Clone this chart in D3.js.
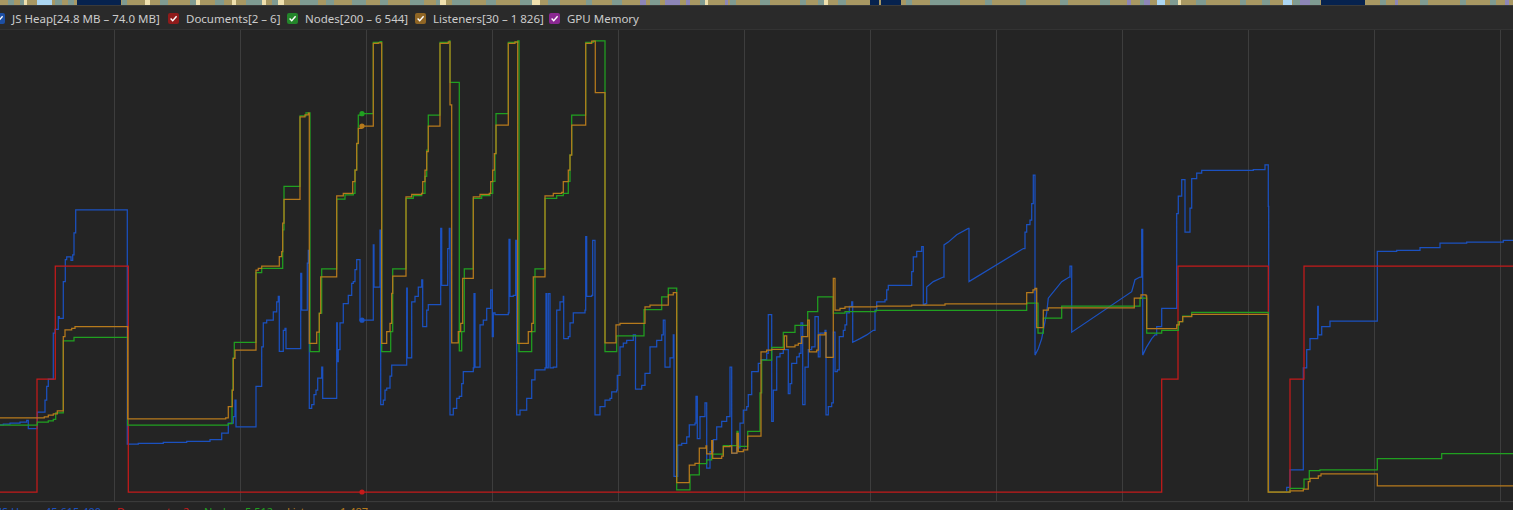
<!DOCTYPE html>
<html><head><meta charset="utf-8">
<script src="https://cdn.jsdelivr.net/npm/d3@7"></script>
<style>
html,body{margin:0;padding:0;background:#242424;overflow:hidden;}
svg{display:block;}
text{font-family:"Noto Sans","Open Sans",sans-serif;}
</style></head><body>
<svg id="chart" width="1513" height="510"></svg>
<script>
// ---------- DATA ----------
// time in ms, visible window
const timeWindow = [0, 15130];
const gridStart = 1140, gridStep = 1260;
const hoverTime = 3620;

// JS Heap (MB); a third element 1 marks a sample reached by a linear ramp
const heapRange = [24.8, 74.0];
const heapData = [[0,32.1],[33,32.2],[100,32.3],[200,32.4],[267,32.6],[283,31.7],[373,33.5],[450,34.8],[467,36.3],[483,37.1],[533,42.1],[550,42.5],[583,43.9],[593,43.7],[633,47.7],[653,50.1],[667,50.4],[710,50.0],[727,50.6],[740,53.0],[757,55.5],[1273,30.0],[1383,30.1],[1633,30.2],[1867,30.3],[2100,30.5],[2217,31.2],[2283,32.3],[2333,33.0],[2350,34.8],[2360,31.9],[2560,36.3],[2617,40.6],[2633,43.2],[2667,43.5],[2733,44.4],[2767,45.5],[2783,46.1],[2793,40.1],[2833,42.4],[2850,42.6],[2860,40.4],[3007,48.6],[3017,44.6],[3073,49.7],[3083,51.1],[3093,33.9],[3117,34.3],[3140,35.4],[3160,35.9],[3177,37.2],[3217,38.4],[3227,35.0],[3367,43.2],[3373,39.0],[3383,40.3],[3400,43.2],[3433,45.3],[3483,46.2],[3517,47.5],[3533,47.7],[3550,49.0],[3567,50.1],[3600,43.5],[3733,51.7],[3740,47.1],[3800,53.3],[3807,34.3],[3833,34.8],[3850,35.9],[3867,36.1],[3900,37.4],[3917,38.6],[4067,47.0],[4073,39.4],[4117,45.5],[4150,46.1],[4183,47.1],[4217,47.9],[4227,42.8],[4267,44.6],[4283,45.2],[4407,53.5],[4417,47.3],[4477,51.3],[4493,53.5],[4500,33.2],[4533,33.9],[4567,35.0],[4593,35.2],[4617,36.6],[4633,37.9],[4733,38.3],[4740,46.4],[4750,38.4],[4800,43.0],[4833,43.5],[4867,44.8],[4907,46.8],[4923,41.7],[4933,44.3],[4950,44.1],[5083,44.3],[5090,52.3],[5100,46.1],[5133,46.2],[5157,52.2],[5167,33.2],[5200,33.7],[5267,35.0],[5317,37.0],[5350,38.1],[5450,38.3],[5460,46.4],[5467,38.3],[5483,46.4],[5500,38.3],[5533,38.4],[5567,44.6],[5600,45.5],[5633,46.1],[5637,41.5],[5683,41.7],[5700,43.2],[5733,44.3],[5850,44.6],[5857,52.6],[5867,46.1],[5917,46.2],[5927,52.2],[5950,33.2],[6000,34.1],[6050,34.8],[6100,35.0],[6117,35.7],[6167,35.9],[6173,37.5],[6200,40.6],[6233,41.0],[6267,41.3],[6333,41.9],[6355,36.0],[6417,36.4],[6450,37.7],[6500,40.6],[6567,41.3],[6617,41.9],[6633,43.5],[6650,38.4],[6700,39.4],[6733,41.9],[6740,26.5],[6777,29.9],[6817,30.1],[6867,30.8],[6893,32.1],[6950,32.3],[6960,35.2],[6973,30.6],[7000,33.0],[7050,34.5],[7067,27.4],[7100,29.2],[7133,30.5],[7167,31.9],[7217,32.5],[7267,33.0],[7300,38.4],[7317,29.0],[7367,29.6],[7400,32.3],[7433,33.7],[7467,34.1],[7483,35.4],[7517,37.9],[7583,38.8],[7610,39.2],[7667,39.9],[7683,44.1],[7717,32.5],[7733,35.9],[7767,39.5],[7800,39.9],[7833,40.3],[7883,35.5],[7900,36.6],[7917,38.8],[7967,39.5],[7993,39.9],[8010,43.2],[8027,34.3],[8050,38.4],[8083,40.3],[8117,40.6],[8150,43.9],[8183,39.5],[8200,42.1],[8250,42.4],[8260,33.2],[8283,34.1],[8317,34.5],[8333,42.2],[8350,37.9],[8373,38.1],[8393,41.7],[8433,42.4],[8450,43.0],[8467,44.3],[8493,45.0],[8517,45.5],[8527,41.1],[8600,41.5,1],[8667,41.9,1],[8733,42.4,1],[8750,44.6],[8767,45.5],[8850,45.7],[8867,46.8],[8883,47.3],[9117,48.8],[9133,50.4],[9167,51.0],[9217,51.5],[9233,45.2],[9250,45.3],[9267,47.1],[9333,47.7,1],[9433,48.2,1],[9440,51.7],[9483,52.0,1],[9567,52.8,1],[9683,53.5,1],[9690,47.7],[10233,51.3,1],[10250,53.1],[10267,53.9],[10300,54.4],[10317,56.2],[10333,59.3],[10350,39.7],[10383,40.4,1],[10417,41.5,1],[10433,42.4,1],[10467,44.3,1],[10483,45.9,1],[10617,47.7,1],[10693,48.2,1],[10700,49.4],[10717,42.2],[11317,46.6,1],[11350,47.9,1],[11400,48.2,1],[11417,53.4],[11427,39.7],[11467,40.6,1],[11517,41.5,1],[11550,41.9,1],[11567,42.8],[11617,44.8],[11767,55.1],[11783,57.0],[11817,58.8],[11850,53.1],[11900,55.7],[11917,58.9],[11967,59.5],[12017,59.8],[12533,59.9],[12650,60.4],[12683,55.9],[12687,24.8],[12867,25.3],[12900,27.2],[13033,38.3],[13067,40.3],[13100,41.5],[13177,45.0],[13183,41.9],[13217,42.8],[13300,43.4],[13773,51.0],[13967,51.1],[14200,51.4],[14400,51.9],[14667,52.0],[15033,52.2],[15130,52.2]];

// Documents
const docsRange = [2, 10];
const docsData = [[0,2],[370,4],[553,6],[1283,2],[11617,4],[11780,6],[12683,2],[12900,4],[13040,6],[15130,6]];

// Nodes
const nodesRange = [200, 6544];
const nodesData = [[0,1140],[373,1180],[483,1200],[533,1220],[557,1310],[633,2320],[740,2370],[1277,1140],[2283,1160],[2320,1630],[2330,2080],[2343,2300],[2560,3280],[2617,3340],[2827,3880],[2840,4490],[3000,5480],[3060,5520],[3100,2170],[3193,2710],[3217,3330],[3367,4310],[3450,4370],[3533,4390],[3550,4720],[3567,5090],[3583,5490],[3617,5510],[3733,6510],[3800,6520],[3817,2170],[3907,2450],[3927,3330],[4060,4320],[4133,4360],[4217,4390],[4250,4630],[4267,5000],[4283,5490],[4400,6510],[4493,6530],[4500,5950],[4593,2180],[4617,2450],[4643,3330],[4733,4320],[4817,4360],[4900,4390],[4927,4560],[4950,4950],[4960,5510],[5083,6510],[5177,6530],[5190,2170],[5317,2450],[5350,3330],[5450,4320],[5567,4360],[5633,4390],[5683,4560],[5700,4930],[5717,5490],[5857,6510],[5933,6530],[6050,2170],[6167,2390],[6440,2760],[6617,2940],[6683,3060],[6767,230],[6900,440],[6993,600],[7067,650],[7117,730],[7233,850],[7370,1050],[7380,840],[7477,1050],[7600,1590],[7617,2050],[7717,2230],[7833,2440],[7950,2540],[8077,2730],[8177,2940],[8333,2710],[8450,2730],[8760,2750],[10267,2850],[10380,2430],[10433,2640],[10617,2810],[11400,2920],[11467,2430],[11617,2470],[11783,2590],[11827,2670],[11917,2720],[12683,200],[12900,250],[13040,380],[13093,500],[13200,510],[13773,670],[14417,740],[15130,740]];

// Listeners
const listenersRange = [30, 1826];
const listenersData = [[0,325],[443,329],[483,335],[533,340],[573,352],[633,647],[650,674],[717,680],[750,687],[1277,321],[2257,325],[2283,369],[2323,435],[2333,561],[2350,594],[2560,912],[2583,919],[2617,928],[2793,965],[2817,985],[2827,1098],[2840,1193],[3000,1521],[3050,1528],[3083,1535],[3093,621],[3167,665],[3193,740],[3207,885],[3367,1207],[3433,1217],[3527,1263],[3550,1309],[3567,1415],[3583,1475],[3617,1484],[3733,1813],[3783,1815],[3817,621],[3867,667],[3900,700],[3917,819],[3927,888],[4060,1203],[4117,1213],[4217,1217],[4227,1263],[4250,1309],[4267,1382],[4283,1484],[4400,1813],[4483,1819],[4500,1568],[4517,623],[4583,667],[4607,700],[4627,879],[4733,1203],[4800,1213],[4893,1217],[4907,1263],[4927,1309],[4943,1375],[4960,1488],[5083,1813],[5150,1819],[5177,621],[5283,667],[5317,700],[5333,885],[5450,1207],[5533,1217],[5617,1221],[5633,1263],[5683,1309],[5700,1369],[5717,1488],[5857,1813],[5917,1822],[5953,1617],[6050,623],[6160,694],[6200,700],[6450,766],[6500,773],[6683,813],[6733,822],[6767,67],[6893,137],[6950,144],[6993,204],[7060,213],[7067,181],[7117,234],[7127,164],[7217,173],[7233,210],[7300,213],[7317,184],[7370,263],[7383,190],[7433,197],[7477,252],[7610,587],[7667,594],[7717,597],[7843,650],[7867,607],[7950,614],[7983,621],[8017,647],[8077,713],[8093,587],[8167,594],[8183,654],[8250,663],[8260,565],[8333,879],[8350,753],[8400,760],[8450,766],[8767,769],[9117,773],[9450,778],[10267,822],[10330,833],[10350,839],[10367,683],[10433,753],[10483,762],[11343,800],[11410,813],[11460,809],[11467,679],[11767,694],[11793,707],[11827,727],[11917,736],[12683,30],[12900,34],[13033,41],[13083,71],[13100,84],[13183,94],[13210,102],[13773,54],[15130,54]];

// Legend and footer texts
const legendLabels = ["JS Heap[24.8 MB \u2013 74.0 MB]", "Documents[2 \u2013 6]", "Nodes[200 \u2013 6 544]", "Listeners[30 \u2013 1 826]", "GPU Memory"];
const footerLabels = ["JS Heap", "Documents", "Nodes", "Listeners"];
const footerValues = ["45 615 400", "2", "5 512", "1 487"];

// Overview strip segments (ms)
const stripSage = [[80,140],[200,260],[550,620],[680,740],[1220,1270],[1600,1680],[1900,1960],[2150,2240],[2460,2620],[2720,2780],[3000,3180],[3260,3340],[3520,3660],[3800,3880],[4100,4240],[4360,4410],[4520,4700],[4860,4960],[5200,5320],[5480,5600],[5860,5920],[6120,6220],[6500,6600],[7000,7080],[7300,7360],[7600,7700],[8000,8060],[8180,8260],[8380,8460],[9060,9120],[9300,9600],[9850,9920],[10200,10260],[10600,10680],[11000,11100],[11400,11500],[11700,11800],[11960,12060],[12400,12460],[12620,12700],[12930,13000],[13100,13200],[13800,13860],[14200,14280],[14600,14660],[14900,14960]];
const stripCream = [[240,270],[1450,1500],[1960,2000],[2320,2360],[2620,2660],[2780,2840],[4400,4460],[5320,5400],[7050,7080],[8240,8280],[11780,11810]];
const stripPurple = [[6400,6460],[6650,6800],[6860,6900],[7250,7280],[11270,11310],[11440,11500],[13000,13100],[13950,13980],[15050,15090]];
const stripLight = [[370,520],[11570,11650],[12830,12920]];
const stripNavy = [[770,1210],[8700,8790],[8810,9010],[13210,13650]];

// ---------- DRAW ----------
const W = 1513, H = 510;
const plotTop = 40, plotBottom = 492;
const svg = d3.select("#chart");
const colors = {heap:"#1b51c0", docs:"#c41a1a", nodes:"#20a020", listeners:"#b67a1c", gpu:"#a21caf"};
const boxColors = ["#1d4fa3","#8f1b1b","#23852a","#8f6524","#8a2891"];
const textColors = [colors.heap, colors.docs, colors.nodes, colors.listeners];

svg.append("rect").attr("width",W).attr("height",H).attr("fill","#242424");

const x = d3.scaleLinear().domain(timeWindow).range([0, W]);
const yHeap = d3.scaleLinear().domain(heapRange).range([plotBottom, plotTop]);
const yDocs = d3.scaleLinear().domain(docsRange).range([plotBottom, plotTop]);
const yNodes = d3.scaleLinear().domain(nodesRange).range([plotBottom, plotTop]);
const yList = d3.scaleLinear().domain(listenersRange).range([plotBottom, plotTop]);

// overview strip
svg.append("rect").attr("x",0).attr("y",0).attr("width",W).attr("height",5).attr("fill","#a89863");
function stripe(arr, color){
  svg.append("g").selectAll("rect").data(arr).join("rect")
    .attr("x", d => x(d[0])).attr("width", d => x(d[1]) - x(d[0]))
    .attr("y", 0).attr("height", 5).attr("fill", color);
}
stripe(stripSage, "#7f9b92");
stripe(stripCream, "#efe0ae");
stripe(stripPurple, "#8d86b8");
stripe(stripLight, "#acd6f2");
stripe(stripNavy, "#06224e");

// legend band
svg.append("rect").attr("x",0).attr("y",5).attr("width",W).attr("height",25).attr("fill","#2a2a2a");
svg.append("rect").attr("x",0).attr("y",5).attr("width",W).attr("height",1).attr("fill","#3a3a3a");
svg.append("rect").attr("x",0).attr("y",29).attr("width",W).attr("height",1).attr("fill","#333333");

const legendX = [-6, 168, 287, 415, 549];
const lg = svg.append("g").selectAll("g").data(legendLabels).join("g")
  .attr("transform", (d,i) => `translate(${legendX[i]},13)`);
lg.append("rect").attr("width",11).attr("height",11).attr("rx",2)
  .attr("fill", (d,i) => boxColors[i]);
lg.append("path").attr("d","M2.6,5.6 L4.7,7.8 L8.6,3.2").attr("fill","none")
  .attr("stroke","#ffffff").attr("stroke-width",1.4);
lg.append("text").attr("x",18).attr("y",9.5).attr("font-size","11.5px")
  .attr("fill","#cccccc").text(d => d);

// grid lines
const gridTimes = d3.range(gridStart, timeWindow[1], gridStep);
svg.append("g").selectAll("line").data(gridTimes).join("line")
  .attr("x1", d => Math.round(x(d)) + 0.5).attr("x2", d => Math.round(x(d)) + 0.5)
  .attr("y1", 30).attr("y2", 501).attr("stroke","#3d3d3d").attr("stroke-width",1);

// step path with optional linear ramps
function counterPath(data, ys){
  const p = d3.path();
  data.forEach((d, i) => {
    const px = x(d[0]), py = ys(d[1]);
    if (i === 0) { p.moveTo(px, py); return; }
    const prev = data[i-1];
    if (d[2] === 1) { p.lineTo(px, py); }
    else { p.lineTo(px, ys(prev[1])); p.lineTo(px, py); }
  });
  return p.toString();
}

const series = [
  {data: heapData, y: yHeap, color: colors.heap},
  {data: docsData, y: yDocs, color: colors.docs},
  {data: nodesData, y: yNodes, color: colors.nodes},
  {data: listenersData, y: yList, color: colors.listeners}
];
series.forEach(s => {
  svg.append("path").attr("d", counterPath(s.data, s.y)).attr("fill","none")
    .attr("stroke", s.color).attr("stroke-width",1.25).attr("stroke-linejoin","miter");
});

// hover markers
const bis = d3.bisector(d => d[0]).right;
series.forEach(s => {
  const i = Math.max(0, bis(s.data, hoverTime) - 1);
  svg.append("circle").attr("cx", x(hoverTime)).attr("cy", s.y(s.data[i][1]))
    .attr("r", 2.6).attr("fill", s.color);
});

// footer
svg.append("rect").attr("x",0).attr("y",501).attr("width",W).attr("height",1.2).attr("fill","#3a3a3a");
const footLabelX = [-1, 117, 204, 287];
const footValX = [45, 183, 245, 340];
footerLabels.forEach((t,i) => {
  svg.append("text").attr("x", footLabelX[i]).attr("y", 516).attr("font-size","11px")
    .attr("fill", textColors[i]).text(t);
  svg.append("text").attr("x", footValX[i]).attr("y", 516).attr("font-size","11px")
    .attr("fill", textColors[i]).text(footerValues[i]);
});
</script>
</body></html>
